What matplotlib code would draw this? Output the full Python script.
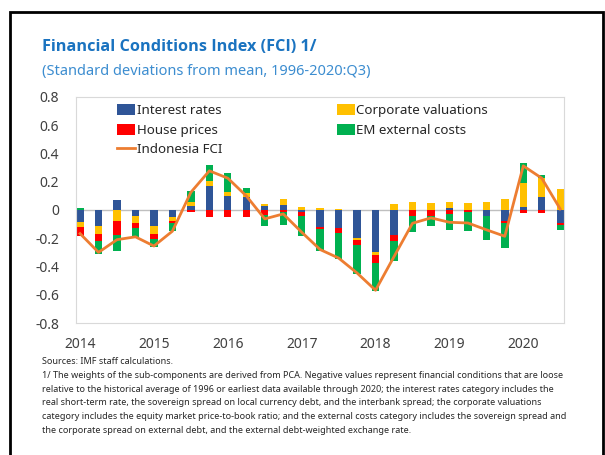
"""Indonesia FCI decomposition, stacked quarterly bars with FCI line."""
import matplotlib

matplotlib.use("Agg")
import matplotlib.pyplot as plt
import matplotlib.patches as mpatches
import numpy as np

plt.rcParams["font.family"] = ["Noto Sans", "DejaVu Sans"]

# 2014Q1 .. 2020Q3
quarters = [f"{y}Q{q}" for y in range(2014, 2021) for q in range(1, 5)][:27]
year_labels = ["2014", "2015", "2016", "2017", "2018", "2019", "2020"]

interest_rates = [-0.087, -0.11, 0.07, -0.04, -0.11, -0.047, 0.03, 0.167, 0.099,
                  0.094, 0.03, 0.035, -0.016, -0.117, -0.129, -0.197, -0.298, -0.174,
                  0.0, 0.0, 0.012, 0.0, -0.045, -0.075, 0.023, 0.089, -0.094]
corporate_val = [-0.035, -0.063, -0.075, -0.052, -0.063, -0.028, 0.03, 0.04, 0.026,
                 0.026, 0.012, 0.042, 0.023, 0.014, 0.009, -0.012, -0.019, 0.042,
                 0.059, 0.047, 0.045, 0.052, 0.059, 0.075, 0.171, 0.136, 0.15]
house_prices = [-0.059, -0.049, -0.099, -0.035, -0.035, -0.016, -0.012, -0.047, -0.047,
                -0.052, -0.033, -0.016, -0.028, -0.016, -0.035, -0.042, -0.056, -0.042,
                -0.045, -0.04, -0.028, -0.016, 0.0, -0.019, -0.021, -0.021, -0.012]
em_external = [0.014, -0.087, -0.113, -0.061, -0.054, -0.059, 0.075, 0.113, 0.14,
               0.035, -0.077, -0.089, -0.141, -0.16, -0.181, -0.2, -0.202, -0.146,
               -0.113, -0.07, -0.117, -0.136, -0.164, -0.174, 0.136, 0.019, -0.033]
indonesia_fci = [-0.167, -0.30, -0.21, -0.19, -0.255, -0.15, 0.125, 0.277, 0.225,
                 0.10, -0.063, -0.028, -0.157, -0.28, -0.34, -0.446, -0.568, -0.33,
                 -0.094, -0.056, -0.087, -0.092, -0.14, -0.186, 0.312, 0.225, 0.007]

series = [
    ("Interest rates", interest_rates, "#2F5597"),
    ("Corporate valuations", corporate_val, "#FFC000"),
    ("House prices", house_prices, "#FF0000"),
    ("EM external costs", em_external, "#00B050"),
]

fig = plt.figure(figsize=(6.05, 4.55), dpi=100)
ax = fig.add_axes([0.1256, 0.290, 0.8065, 0.497])

x = np.arange(len(quarters))
pos = np.zeros(len(x))
neg = np.zeros(len(x))
handles = {}
for name, vals, color in series:
    v = np.array(vals)
    bottom = np.where(v >= 0, pos, neg)
    handles[name] = ax.bar(x, v, 0.4, bottom=bottom, color=color, label=name, zorder=2)
    pos += np.where(v >= 0, v, 0)
    neg += np.where(v < 0, v, 0)

(fci_line,) = ax.plot(x, indonesia_fci, color="#ED7D31", lw=2, label="Indonesia FCI", zorder=3)

ax.axhline(0, color="#BFBFBF", lw=1, zorder=1)
ax.set_ylim(-0.8, 0.8)
ax.set_xlim(-0.22, 26.2)
ax.set_yticks(np.arange(-0.8, 0.81, 0.2))
ax.set_yticklabels(["-0.8", "-0.6", "-0.4", "-0.2", "0", "0.2", "0.4", "0.6", "0.8"])
ax.set_xticks(x[::4])
ax.set_xticklabels(year_labels)
ax.tick_params(length=0, labelsize=10, colors="#404040")
ax.tick_params(axis="x", pad=10)
ax.tick_params(axis="y", pad=12)
for s in ax.spines.values():
    s.set_color("#D9D9D9")

leg = ax.legend(
    [handles["Interest rates"], handles["House prices"], fci_line,
     handles["Corporate valuations"], handles["EM external costs"]],
    ["Interest rates", "House prices", "Indonesia FCI",
     "Corporate valuations", "EM external costs"],
    ncol=2, loc="upper left", bbox_to_anchor=(0.07, 1.0), frameon=False,
    fontsize=9.6, handlelength=1.35, handleheight=0.9, handletextpad=0.1,
    labelspacing=0.48, columnspacing=8.6, borderaxespad=0.15,
)
for t in leg.get_texts():
    t.set_color("#262626")

fig.text(42 / 605, 1 - 47 / 455, "Financial Conditions Index (FCI) 1/", fontsize=11.7,
         fontweight="bold", family=["Open Sans", "DejaVu Sans"], color="#1A73C0",
         va="center")
fig.text(42 / 605, 1 - 72 / 455, "(Standard deviations from mean, 1996-2020:Q3)",
         fontsize=10.5, color="#3C8DD0", va="center")

notes = (
    "Sources: IMF staff calculations.\n"
    "1/ The weights of the sub-components are derived from PCA. Negative values represent financial conditions that are loose\n"
    "relative to the historical average of 1996 or earliest data available through 2020; the interest rates category includes the\n"
    "real short-term rate, the sovereign spread on local currency debt, and the interbank spread; the corporate valuations\n"
    "category includes the equity market price-to-book ratio; and the external costs category includes the sovereign spread and\n"
    "the corporate spread on external debt, and the external debt-weighted exchange rate."
)
fig.text(42 / 605, 1 - 357 / 455, notes, fontsize=6.5, color="#262626", va="top",
         linespacing=1.68)

border = mpatches.Rectangle((10 / 605, -0.1), 593 / 605, 1.1 - 12 / 455,
                            transform=fig.transFigure, fill=False, ec="black", lw=2)
fig.patches.append(border)

fig.savefig("out.png", dpi=100)
